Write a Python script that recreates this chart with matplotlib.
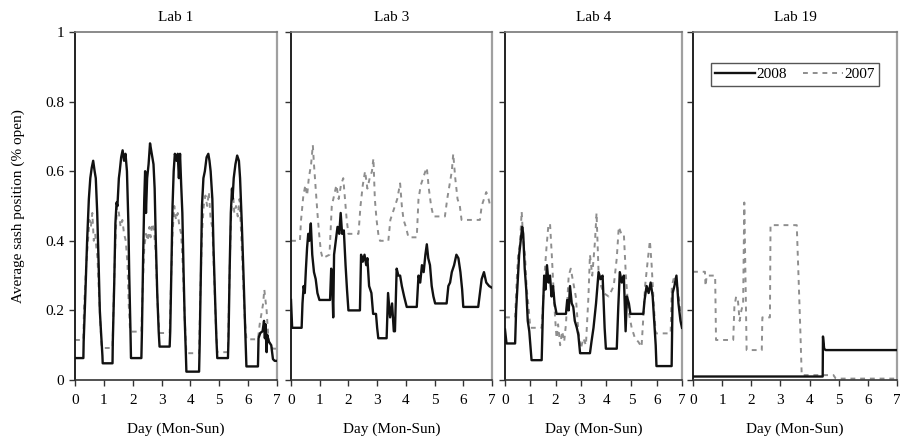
import matplotlib
matplotlib.use("Agg")
import matplotlib.pyplot as plt

plt.rcParams["font.family"] = ["Liberation Serif", "DejaVu Serif"]
plt.rcParams["font.size"] = 11

# ---- data: (day, sash position) ----
lab1_2008_x = [0, 0.29, 0.30, 0.36, 0.42, 0.48, 0.53, 0.58, 0.63, 0.68, 0.72, 0.77, 0.82, 0.86, 0.90, 0.95, 0.96,
               1.30, 1.31, 1.36, 1.40, 1.44, 1.47, 1.52, 1.55, 1.60, 1.65, 1.70, 1.75, 1.80, 1.85, 1.88, 1.92, 1.94,
               2.30, 2.32, 2.36, 2.40, 2.43, 2.46, 2.50, 2.55, 2.60, 2.64, 2.68, 2.72, 2.76, 2.80, 2.85, 2.90, 2.93,
               3.28, 3.30, 3.34, 3.38, 3.42, 3.46, 3.52, 3.56, 3.60, 3.64, 3.68, 3.72, 3.76, 3.80, 3.84, 3.86,
               4.30, 4.32, 4.36, 4.40, 4.45, 4.50, 4.56, 4.62, 4.66, 4.70, 4.76, 4.80, 4.86, 4.90, 4.93,
               5.30, 5.32, 5.36, 5.40, 5.44, 5.46, 5.50, 5.56, 5.62, 5.68, 5.72, 5.78, 5.84, 5.90, 5.94,
               6.34, 6.36, 6.42, 6.50, 6.55, 6.58, 6.60, 6.64, 6.66, 6.72, 6.80, 6.86, 6.92, 7.0]
lab1_2008_y = [0.063, 0.063, 0.11, 0.25, 0.40, 0.52, 0.58, 0.61, 0.63, 0.60, 0.58, 0.48, 0.33, 0.20, 0.14, 0.07, 0.048,
               0.048, 0.11, 0.28, 0.45, 0.51, 0.50, 0.58, 0.60, 0.64, 0.66, 0.63, 0.65, 0.60, 0.45, 0.30, 0.15, 0.063,
               0.063, 0.14, 0.35, 0.52, 0.60, 0.48, 0.58, 0.62, 0.68, 0.66, 0.64, 0.62, 0.55, 0.40, 0.25, 0.14, 0.096,
               0.096, 0.14, 0.32, 0.50, 0.60, 0.65, 0.63, 0.65, 0.58, 0.65, 0.56, 0.48, 0.32, 0.18, 0.08, 0.024,
               0.024, 0.10, 0.30, 0.50, 0.58, 0.60, 0.64, 0.65, 0.63, 0.60, 0.52, 0.38, 0.22, 0.12, 0.063,
               0.063, 0.12, 0.32, 0.48, 0.55, 0.52, 0.58, 0.62, 0.645, 0.63, 0.58, 0.45, 0.30, 0.14, 0.039,
               0.039, 0.12, 0.135, 0.14, 0.17, 0.12, 0.16, 0.08, 0.13, 0.11, 0.10, 0.06, 0.055, 0.055]

lab1_2007_x = [0, 0.29, 0.31, 0.38, 0.45, 0.50, 0.55, 0.60, 0.65, 0.70, 0.74, 0.78, 0.83, 0.88, 0.92, 0.96,
               1.30, 1.33, 1.38, 1.42, 1.46, 1.52, 1.58, 1.64, 1.70, 1.76, 1.82, 1.86, 1.91, 1.94,
               2.30, 2.34, 2.40, 2.46, 2.52, 2.58, 2.62, 2.68, 2.74, 2.80, 2.86, 2.92, 2.95,
               3.28, 3.32, 3.38, 3.44, 3.50, 3.56, 3.62, 3.68, 3.74, 3.80, 3.86,
               4.30, 4.34, 4.40, 4.46, 4.52, 4.58, 4.64, 4.70, 4.76, 4.82, 4.88, 4.93,
               5.30, 5.34, 5.40, 5.46, 5.52, 5.58, 5.64, 5.70, 5.76, 5.82, 5.88, 5.94,
               6.34, 6.40, 6.46, 6.52, 6.56, 6.60, 6.64, 6.70, 6.76, 6.86, 7.0]
lab1_2007_y = [0.115, 0.115, 0.20, 0.32, 0.40, 0.46, 0.44, 0.48, 0.40, 0.42, 0.38, 0.35, 0.25, 0.16, 0.10, 0.092,
               0.092, 0.20, 0.35, 0.44, 0.50, 0.48, 0.44, 0.46, 0.42, 0.40, 0.33, 0.22, 0.14, 0.139,
               0.139, 0.25, 0.38, 0.42, 0.40, 0.44, 0.41, 0.45, 0.43, 0.36, 0.22, 0.14, 0.135,
               0.135, 0.26, 0.42, 0.50, 0.46, 0.48, 0.44, 0.42, 0.32, 0.18, 0.077,
               0.077, 0.24, 0.42, 0.50, 0.53, 0.50, 0.54, 0.46, 0.44, 0.30, 0.16, 0.080,
               0.080, 0.25, 0.45, 0.56, 0.48, 0.50, 0.47, 0.52, 0.42, 0.30, 0.18, 0.117,
               0.117, 0.16, 0.19, 0.22, 0.26, 0.23, 0.20, 0.12, 0.10, 0.09, 0.09]

lab3_2008_x = [0, 0.04, 0.37, 0.40, 0.44, 0.48, 0.52, 0.56, 0.60, 0.64, 0.69, 0.74, 0.80, 0.86, 0.92, 0.99,
               1.36, 1.40, 1.44, 1.47, 1.50, 1.56, 1.62, 1.68, 1.73, 1.78, 1.84, 1.90, 1.95, 2.00,
               2.40, 2.44, 2.50, 2.56, 2.62, 2.66, 2.72, 2.80, 2.86, 2.96, 3.00, 3.04,
               3.33, 3.38, 3.45, 3.52, 3.58, 3.62, 3.68, 3.74, 3.80, 3.86, 3.94, 4.03,
               4.38, 4.44, 4.50, 4.56, 4.62, 4.68, 4.73, 4.78, 4.84, 4.90, 4.96, 5.02,
               5.42, 5.48, 5.54, 5.60, 5.68, 5.76, 5.83, 5.90, 5.96, 6.00,
               6.52, 6.58, 6.64, 6.72, 6.80, 6.90, 7.0]
lab3_2008_y = [0.23, 0.15, 0.15, 0.22, 0.27, 0.25, 0.32, 0.38, 0.42, 0.40, 0.45, 0.36, 0.31, 0.29, 0.25, 0.23,
               0.23, 0.32, 0.27, 0.18, 0.36, 0.40, 0.44, 0.42, 0.48, 0.42, 0.43, 0.33, 0.26, 0.20,
               0.20, 0.36, 0.34, 0.36, 0.33, 0.35, 0.27, 0.25, 0.19, 0.19, 0.15, 0.12,
               0.12, 0.25, 0.18, 0.22, 0.14, 0.14, 0.32, 0.30, 0.30, 0.27, 0.24, 0.21,
               0.21, 0.30, 0.28, 0.33, 0.31, 0.36, 0.39, 0.35, 0.33, 0.27, 0.24, 0.22,
               0.22, 0.27, 0.28, 0.31, 0.33, 0.36, 0.35, 0.31, 0.26, 0.21,
               0.21, 0.25, 0.29, 0.31, 0.28, 0.27, 0.265]

lab3_2007_x = [0, 0.31, 0.35, 0.43, 0.50, 0.56, 0.62, 0.70, 0.76, 0.80, 0.86, 0.92, 0.98, 1.04, 1.10,
               1.34, 1.42, 1.50, 1.58, 1.66, 1.74, 1.82, 1.88, 1.94, 2.00,
               2.35, 2.42, 2.50, 2.58, 2.66, 2.74, 2.82, 2.87, 2.92, 2.98, 3.04, 3.10,
               3.39, 3.46, 3.54, 3.62, 3.70, 3.80, 3.86, 3.92, 4.00, 4.09,
               4.38, 4.44, 4.52, 4.60, 4.68, 4.73, 4.80, 4.88, 4.96,
               5.36, 5.44, 5.52, 5.60, 5.65, 5.72, 5.80, 5.88, 5.94,
               6.58, 6.64, 6.72, 6.80, 6.88, 6.94, 7.0]
lab3_2007_y = [0.40, 0.40, 0.46, 0.53, 0.56, 0.53, 0.58, 0.62, 0.675, 0.62, 0.55, 0.48, 0.42, 0.37, 0.35,
               0.36, 0.50, 0.53, 0.56, 0.52, 0.56, 0.58, 0.52, 0.46, 0.42,
               0.42, 0.50, 0.56, 0.60, 0.55, 0.58, 0.60, 0.637, 0.52, 0.46, 0.42, 0.40,
               0.40, 0.46, 0.48, 0.50, 0.52, 0.565, 0.50, 0.46, 0.44, 0.41,
               0.41, 0.52, 0.56, 0.58, 0.60, 0.61, 0.55, 0.50, 0.47,
               0.47, 0.52, 0.56, 0.60, 0.65, 0.58, 0.52, 0.50, 0.46,
               0.46, 0.50, 0.52, 0.54, 0.52, 0.50, 0.50]

lab4_2008_x = [0, 0.06, 0.40, 0.44, 0.50, 0.56, 0.62, 0.68, 0.72, 0.78, 0.84, 0.90, 0.96, 1.05,
               1.45, 1.50, 1.55, 1.60, 1.66, 1.72, 1.78, 1.84, 1.90, 1.96, 2.04,
               2.41, 2.46, 2.52, 2.57, 2.64, 2.70, 2.76, 2.84, 2.90, 2.97,
               3.36, 3.42, 3.50, 3.60, 3.70, 3.78, 3.86, 3.94, 3.99,
               4.42, 4.48, 4.54, 4.62, 4.70, 4.77, 4.82, 4.90, 4.96, 5.07,
               5.47, 5.52, 5.60, 5.68, 5.76, 5.84, 5.90, 5.96, 5.99,
               6.59, 6.63, 6.70, 6.78, 6.86, 6.94, 7.0]
lab4_2008_y = [0.145, 0.105, 0.105, 0.20, 0.28, 0.36, 0.40, 0.44, 0.42, 0.32, 0.26, 0.17, 0.14, 0.057,
               0.057, 0.20, 0.30, 0.26, 0.33, 0.28, 0.30, 0.24, 0.27, 0.22, 0.19,
               0.19, 0.23, 0.20, 0.27, 0.22, 0.21, 0.17, 0.15, 0.13, 0.077,
               0.077, 0.11, 0.15, 0.22, 0.31, 0.29, 0.30, 0.15, 0.09,
               0.09, 0.21, 0.31, 0.28, 0.30, 0.14, 0.24, 0.22, 0.19, 0.19,
               0.19, 0.23, 0.27, 0.25, 0.28, 0.24, 0.17, 0.10, 0.04,
               0.04, 0.25, 0.27, 0.30, 0.22, 0.17, 0.15]

lab4_2007_x = [0, 0.40, 0.46, 0.52, 0.59, 0.66, 0.72, 0.79, 0.86, 0.92, 1.00,
               1.45, 1.52, 1.58, 1.64, 1.71, 1.78, 1.85, 1.92, 1.98, 2.04, 2.10, 2.18, 2.26, 2.34, 2.41,
               2.52, 2.60, 2.70, 2.80, 2.90, 3.00, 3.10, 3.20, 3.30, 3.36, 3.45, 3.56, 3.62, 3.70,
               3.80, 3.90, 4.10, 4.30, 4.42, 4.50, 4.60, 4.70, 4.78,
               4.88, 5.01, 5.14, 5.27, 5.40, 5.47, 5.54, 5.64, 5.73, 5.80, 5.88, 5.96,
               6.55, 6.60, 6.70, 6.80, 6.90, 7.0]
lab4_2007_y = [0.18, 0.18, 0.28, 0.36, 0.39, 0.484, 0.40, 0.36, 0.26, 0.22, 0.15,
               0.15, 0.24, 0.32, 0.38, 0.44, 0.45, 0.36, 0.26, 0.18, 0.12, 0.16, 0.10, 0.14, 0.11, 0.16,
               0.30, 0.32, 0.28, 0.24, 0.14, 0.09, 0.12, 0.10, 0.24, 0.36, 0.30, 0.40, 0.48, 0.31,
               0.27, 0.25, 0.24, 0.27, 0.35, 0.44, 0.42, 0.42, 0.30,
               0.20, 0.15, 0.12, 0.11, 0.095, 0.18, 0.27, 0.34, 0.40, 0.33, 0.22, 0.134,
               0.134, 0.27, 0.30, 0.28, 0.22, 0.17]

lab19_2008_x = [0, 4.45, 4.46, 4.50, 4.55, 7.0]
lab19_2008_y = [0.01, 0.01, 0.125, 0.09, 0.086, 0.086]

lab19_2007_x = [0, 0.41, 0.43, 0.47, 0.76, 0.79, 1.38, 1.42, 1.48, 1.54, 1.60, 1.66, 1.72, 1.76, 1.80, 1.84,
                2.36, 2.38, 2.64, 2.66, 3.56, 3.62, 3.68, 3.73, 4.82, 4.90, 7.0]
lab19_2007_y = [0.311, 0.311, 0.27, 0.30, 0.30, 0.115, 0.115, 0.21, 0.24, 0.23, 0.17, 0.20, 0.22, 0.51, 0.30, 0.086,
                0.086, 0.18, 0.18, 0.445, 0.445, 0.30, 0.15, 0.014, 0.014, 0.004, 0.004]

labs = ["Lab 1", "Lab 3", "Lab 4", "Lab 19"]
series_2008 = [(lab1_2008_x, lab1_2008_y), (lab3_2008_x, lab3_2008_y),
               (lab4_2008_x, lab4_2008_y), (lab19_2008_x, lab19_2008_y)]
series_2007 = [(lab1_2007_x, lab1_2007_y), (lab3_2007_x, lab3_2007_y),
               (lab4_2007_x, lab4_2007_y), (lab19_2007_x, lab19_2007_y)]
day_ticks = [0, 1, 2, 3, 4, 5, 6, 7]
y_ticks = [0, 0.2, 0.4, 0.6, 0.8, 1]
y_tick_labels = ["0", "0.2", "0.4", "0.6", "0.8", "1"]

W, H = 900, 437
# panel boxes in pixels: left, right (top 32, bottom 380)
boxes = [(75, 277), (291, 492), (505, 682), (693, 897)]
top_px, bot_px = 32, 380

fig = plt.figure(figsize=(W / 100, H / 100), dpi=100)
fig.patch.set_facecolor("white")

for i, (lab, (x8, y8), (x7, y7)) in enumerate(zip(labs, series_2008, series_2007)):
    l, r = boxes[i]
    ax = fig.add_axes([l / W, (H - bot_px) / H, (r - l) / W, (bot_px - top_px) / H])
    ax.plot(x7, y7, color="#8e8e8e", lw=1.4, ls=(0, (2.5, 2.5)), label="2007", zorder=2)
    ax.plot(x8, y8, color="#111111", lw=1.7, label="2008", zorder=3)
    ax.set_xlim(0, 7)
    ax.set_ylim(0, 1)
    ax.set_xticks(day_ticks)
    ax.set_yticks(y_ticks)
    if i == 0:
        ax.set_yticklabels(y_tick_labels)
    else:
        ax.set_yticklabels([])
    ax.tick_params(axis="x", direction="out", length=4, width=1, color="#333333", labelsize=11, pad=6)
    ax.tick_params(axis="y", direction="out", length=4, width=1, color="#333333", labelsize=11, pad=4)
    ax.set_title(lab, fontsize=11, pad=8)
    ax.set_xlabel("Day (Mon-Sun)", fontsize=11, labelpad=11)
    ax.spines["left"].set_color("#222222")
    ax.spines["bottom"].set_color("#333333")
    ax.spines["top"].set_color("#777777")
    ax.spines["right"].set_color("#a0a0a0")
    ax.spines["left"].set_linewidth(1.4)
    ax.spines["bottom"].set_linewidth(1.2)
    ax.spines["top"].set_linewidth(1.2)
    ax.spines["right"].set_linewidth(1.6)
    if i == 3:
        handles, names = ax.get_legend_handles_labels()
        leg = ax.legend(handles[::-1], names[::-1], ncol=2, loc="center",
                        bbox_to_anchor=(0.049, 0.842, 0.902, 0.072), mode="expand",
                        fancybox=False, edgecolor="#555555", framealpha=1,
                        handlelength=2.6, handletextpad=0.1, columnspacing=1.2,
                        borderpad=0.3, fontsize=11)
        leg.get_frame().set_linewidth(1.0)

fig.text(18 / W, 1 - 206 / H, "Average sash position (% open)", rotation=90,
         ha="center", va="center", fontsize=11)

fig.savefig("out.png", dpi=100, facecolor="white")
